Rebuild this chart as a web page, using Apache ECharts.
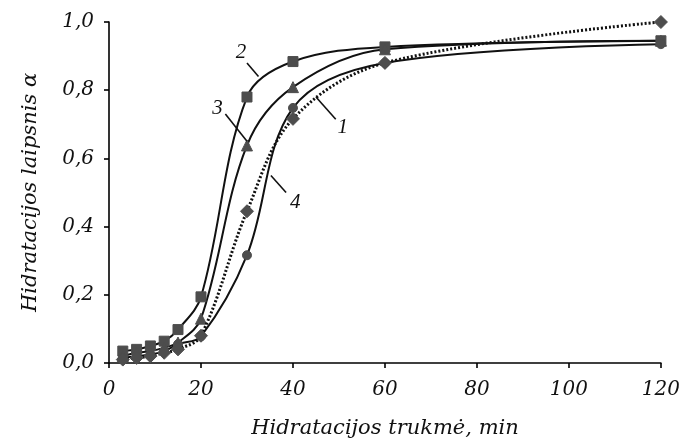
<!DOCTYPE html>
<html><head><meta charset="utf-8">
<script src="https://cdn.jsdelivr.net/npm/echarts@6/dist/echarts.min.js"></script>
<style>html,body{margin:0;padding:0;background:#fff}#c{width:683px;height:444px}</style>
</head><body><div id="c"></div>
<script>
const times = [3, 6, 9, 12, 15, 20, 30, 40, 60, 120];
const s1 = [0.01, 0.015, 0.02, 0.03, 0.04, 0.08, 0.445, 0.716, 0.88, 1.0];   // diamonds, dotted
const s2 = [0.035, 0.04, 0.05, 0.064, 0.098, 0.194, 0.78, 0.884, 0.927, 0.945]; // squares
const s3 = [0.02, 0.03, 0.035, 0.045, 0.06, 0.13, 0.638, 0.809, 0.92, 0.945];   // triangles
const s4 = [0.015, 0.02, 0.025, 0.035, 0.055, 0.078, 0.316, 0.748, 0.88, 0.935]; // circles
const xTicks = [0, 20, 40, 60, 80, 100, 120];
const yTicks = [0, 0.2, 0.4, 0.6, 0.8, 1.0];

const font = 'DejaVu Serif';
const markerColor = '#4d4d4d';
function pts(arr){ return times.map((t,i)=>[t, arr[i]]); }
function ser(name, arr, symbol, size, dotted){
  return {
    name, type:'line', data: pts(arr), smooth: 0.35,
    symbol, symbolSize: size,
    itemStyle:{color: markerColor, borderColor: markerColor},
    lineStyle:{color:'#111', width: dotted?3:2, type: dotted?[2,2]:'solid'},
    z: dotted?3:2
  };
}
const chart = echarts.init(document.getElementById('c'), null, {renderer:'canvas'});
chart.setOption({
  animation:false,
  grid:{left:109, right:19, top:22, bottom:77},
  xAxis:{type:'value', min:0, max:120, interval:20,
    axisLine:{lineStyle:{color:'#000', width:1.6}},
    axisTick:{show:true, length:5, lineStyle:{color:'#000', width:1.6}},
    splitLine:{show:false},
    axisLabel:{color:'#111', fontFamily:font, fontStyle:'italic', fontSize:20, margin:17,
      formatter:v=>xTicks.includes(v)?String(v):''},
    name:'Hidratacijos trukmė, min', nameLocation:'middle', nameGap:55,
    nameTextStyle:{color:'#111', fontFamily:font, fontStyle:'italic', fontSize:21}
  },
  yAxis:{type:'value', min:0, max:1, interval:0.2,
    axisLine:{show:true, lineStyle:{color:'#000', width:1.6}},
    axisTick:{show:true, length:5, lineStyle:{color:'#000', width:1.6}},
    splitLine:{show:false},
    axisLabel:{color:'#111', fontFamily:font, fontStyle:'italic', fontSize:20, margin:15,
      formatter:v=>v.toFixed(1).replace('.',',')},
    name:'Hidratacijos laipsnis α', nameLocation:'middle', nameGap:68,
    nameTextStyle:{color:'#111', fontFamily:font, fontStyle:'italic', fontSize:21}
  },
  series:[
    ser('1', s1, 'diamond', 13, true),
    ser('2', s2, 'rect', 10, false),
    ser('3', s3, 'triangle', 11, false),
    ser('4', s4, 'circle', 9, false)
  ]
});
// annotations (labels with leader lines), placed in data coordinates
const notes = [
  {t:'2', text:[28.7, 0.91], a:[30.0, 0.88], b:[32.5, 0.84]},
  {t:'3', text:[23.6, 0.745], a:[25.3, 0.73], b:[30.0, 0.65]},
  {t:'1', text:[50.8, 0.69], a:[45.0, 0.78], b:[49.3, 0.715]},
  {t:'4', text:[40.5, 0.47], a:[35.2, 0.55], b:[38.5, 0.50]}
];
const g = [];
notes.forEach(n=>{
  const p = chart.convertToPixel({gridIndex:0}, n.text);
  const a = chart.convertToPixel({gridIndex:0}, n.a);
  const b = chart.convertToPixel({gridIndex:0}, n.b);
  g.push({type:'text', x:p[0], y:p[1], style:{text:n.t, fill:'#111', font:'italic 21px "Liberation Serif"', align:'center', verticalAlign:'middle'}, z:10});
  g.push({type:'line', shape:{x1:a[0],y1:a[1],x2:b[0],y2:b[1]}, style:{stroke:'#111', lineWidth:1.6}, z:10});
});
chart.setOption({graphic:g});
</script></body></html>
